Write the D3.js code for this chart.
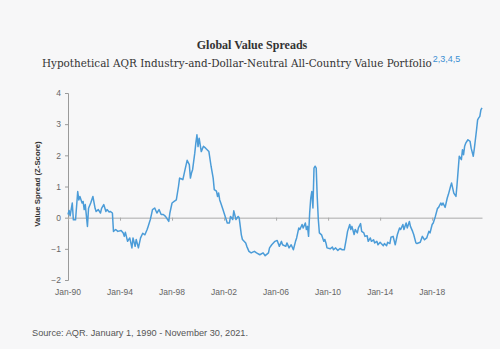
<!DOCTYPE html>
<html>
<head>
<meta charset="utf-8">
<script src="https://cdn.jsdelivr.net/npm/d3@7"></script>
<style>
  html, body { margin: 0; padding: 0; background: #f7f7f8; }
  svg { display: block; }
</style>
</head>
<body>
<script>
// monthly value spread readings, Jan 1990 - Nov 2021
var months = [
  "1990-01","1990-02","1990-03","1990-05","1990-06","1990-08","1990-10","1990-11","1990-12",
  "1991-02","1991-03","1991-04","1991-05","1991-07","1991-08","1991-10","1991-12",
  "1992-02","1992-03","1992-05","1992-07","1992-08","1992-10","1992-12",
  "1993-01","1993-03","1993-04","1993-06","1993-07","1993-09","1993-11",
  "1994-02","1994-04","1994-05","1994-06","1994-08","1994-10","1994-11","1994-12",
  "1995-01","1995-03","1995-04","1995-06","1995-08","1995-10","1995-12",
  "1996-02","1996-03","1996-05","1996-06","1996-07","1996-09","1996-11",
  "1997-01","1997-03","1997-05","1997-07","1997-10","1997-11",
  "1998-01","1998-03","1998-05","1998-07","1998-08","1998-10","1998-11",
  "1999-01","1999-03","1999-05","1999-06","1999-07","1999-08","1999-10","1999-11","1999-12",
  "2000-01","2000-02","2000-04","2000-06","2000-08","2000-11",
  "2001-01","2001-03","2001-04","2001-06","2001-07","2001-08","2001-09","2001-10","2001-12",
  "2002-01","2002-03","2002-04","2002-06","2002-07","2002-09","2002-10","2002-12",
  "2003-02","2003-03","2003-05","2003-06","2003-09","2003-10","2003-12",
  "2004-02","2004-05","2004-07","2004-10",
  "2005-01","2005-03","2005-06","2005-07","2005-09","2005-12",
  "2006-02","2006-04","2006-06","2006-07","2006-10","2006-11",
  "2007-01","2007-03","2007-05","2007-07","2007-08","2007-10","2007-11",
  "2008-01","2008-02","2008-04","2008-05","2008-06","2008-07","2008-08","2008-09","2008-10","2008-11","2008-12",
  "2009-01","2009-02","2009-03","2009-04","2009-05","2009-07","2009-09","2009-10","2009-11","2009-12",
  "2010-03","2010-05","2010-06","2010-08","2010-10","2010-12",
  "2011-02","2011-04","2011-06","2011-07","2011-09","2011-10","2011-11",
  "2012-01","2012-02","2012-04","2012-05","2012-07","2012-08","2012-10","2012-11",
  "2013-01","2013-02","2013-04","2013-05","2013-07","2013-08","2013-10","2013-11",
  "2014-01","2014-02","2014-04","2014-05","2014-07","2014-08","2014-10","2014-11",
  "2015-01","2015-03","2015-05","2015-07","2015-08","2015-10","2015-11",
  "2016-01","2016-02","2016-04","2016-05","2016-07","2016-08","2016-10","2016-11",
  "2017-02","2017-04","2017-06","2017-08","2017-10","2017-11",
  "2018-01","2018-02","2018-04","2018-06","2018-07","2018-09","2018-10","2018-11",
  "2019-01","2019-03","2019-04","2019-06","2019-07","2019-09","2019-11","2019-12",
  "2020-02","2020-04","2020-05","2020-06","2020-07","2020-08","2020-10","2020-12",
  "2021-01","2021-03","2021-04","2021-06","2021-07","2021-08","2021-09","2021-10","2021-11"
];

var spread = [
  0.10,0.23,0.06,0.47,-0.07,-0.07,0.84,0.57,0.68,
  0.47,0.52,0.26,0.42,-0.28,0.30,0.47,0.68,
  0.30,0.20,0.26,0.15,0.30,0.42,0.20,
  0.26,0.18,0.20,0.15,-0.44,-0.38,-0.44,
  -0.41,-0.49,-0.60,-0.47,-0.76,-0.65,-0.81,-0.97,
  -0.65,-0.92,-0.70,-0.97,-0.65,-0.50,-0.55,
  -0.38,-0.28,-0.06,0.10,0.26,0.31,0.15,
  0.26,0.10,0.10,0.04,-0.12,0.15,
  0.47,0.52,0.57,1.00,1.27,1.24,1.22,
  1.54,1.84,1.70,1.27,1.43,1.54,2.07,2.40,2.66,
  2.28,2.55,2.12,2.29,2.23,2.12,
  1.65,1.27,0.90,0.85,0.68,0.79,0.57,0.47,0.26,
  0.15,-0.06,-0.17,-0.17,0.04,-0.06,0.22,-0.06,
  0.04,0.00,-0.55,-0.70,-0.81,-0.92,-1.08,
  -1.13,-1.08,-1.13,-1.19,
  -1.13,-1.22,-1.13,-0.97,-0.87,-0.76,
  -0.73,-0.92,-0.76,-0.87,-0.92,-0.81,
  -0.97,-0.87,-1.03,-0.76,-0.65,-0.33,-0.38,
  -0.22,-0.33,-0.17,-0.38,-0.28,-0.60,0.15,0.63,0.84,0.31,1.59,
  1.65,1.59,0.68,-0.06,-0.49,-0.55,-0.76,-0.70,-0.81,-0.97,
  -1.00,-0.94,-1.03,-0.97,-1.05,-0.99,
  -1.03,-1.03,-0.65,-0.44,-0.22,-0.38,-0.28,
  -0.54,-0.38,-0.49,-0.33,-0.19,-0.44,-0.49,-0.60,
  -0.58,-0.76,-0.65,-0.76,-0.71,-0.81,-0.76,-0.87,
  -0.79,-0.83,-0.90,-0.83,-0.90,-0.79,-0.83,-0.63,
  -0.60,-0.87,-0.54,-0.33,-0.38,-0.22,-0.38,
  -0.17,-0.33,-0.12,-0.28,-0.44,-0.54,-0.81,-0.83,
  -0.79,-0.60,-0.71,-0.65,-0.44,-0.49,
  -0.22,-0.17,0.04,0.30,0.33,0.47,0.40,0.47,
  0.33,0.63,0.74,1.00,1.11,0.79,0.68,1.06,
  1.97,1.86,2.18,2.02,2.29,2.39,2.50,2.45,
  2.23,1.97,2.23,2.82,3.14,3.20,3.25,3.46,3.52
];

var yTicks = [-2, -1, 0, 1, 2, 3, 4];
var xTickYears = [1990, 1994, 1998, 2002, 2006, 2010, 2014, 2018];

var W = 500, H = 349;
var parse = d3.timeParse("%Y-%m");
var data = months.map(function(m, i){ return {date: parse(m), value: spread[i]}; });

var svg = d3.select("body").append("svg")
    .attr("width", W)
    .attr("height", H);

var x = d3.scaleTime()
    .domain([parse("1990-01"), parse("2021-11")])
    .range([68, 482]);

var y = d3.scaleLinear()
    .domain([-2, 4])
    .range([280, 93]);

// titles
svg.append("text")
    .attr("x", 252).attr("y", 49)
    .attr("text-anchor", "middle")
    .style("font-family", "'Liberation Serif', 'DejaVu Serif', serif")
    .style("font-weight", "bold")
    .style("font-size", "12px")
    .style("fill", "#333")
    .text("Global Value Spreads");

var sub = svg.append("text")
    .attr("x", 42).attr("y", 67)
    .style("font-family", "'DejaVu Serif', serif")
    .style("font-size", "10.4px")
    .style("fill", "#333");
sub.append("tspan")
    .text("Hypothetical AQR Industry-and-Dollar-Neutral All-Country Value Portfolio");
sub.append("tspan")
    .attr("dx", 1)
    .attr("dy", -5)
    .style("font-family", "'Liberation Sans', Arial, sans-serif")
    .style("font-size", "9px")
    .style("fill", "#3b8fd3")
    .text("2,3,4,5");

// y axis
var yAxis = svg.append("g")
    .attr("transform", "translate(68,0)")
    .call(d3.axisLeft(y).tickValues(yTicks).tickSize(3).tickPadding(4).tickFormat(d3.format("d")));
yAxis.select(".domain").attr("stroke", "#9a9a9a");
yAxis.selectAll(".tick line").attr("stroke", "#9a9a9a");
yAxis.selectAll(".tick text")
    .style("font-family", "'Liberation Sans', Arial, sans-serif")
    .style("font-size", "8.5px")
    .style("fill", "#666");

svg.append("text")
    .attr("transform", "translate(40,184) rotate(-90)")
    .attr("text-anchor", "middle")
    .style("font-family", "'Liberation Sans', Arial, sans-serif")
    .style("font-weight", "bold")
    .style("font-size", "7.8px")
    .style("fill", "#333")
    .text("Value Spread (Z-Score)");

// zero line with small ticks, labels down at the bottom
var xTicks = xTickYears.map(function(yr){ return new Date(yr, 0, 1); });
var zeroAxis = svg.append("g")
    .attr("transform", "translate(0," + y(0) + ")")
    .call(d3.axisBottom(x).tickValues(xTicks).tickSize(3).tickSizeOuter(0).tickFormat(""));
zeroAxis.select(".domain").attr("stroke", "#aaa");
zeroAxis.selectAll(".tick line").attr("stroke", "#aaa");

svg.append("g").selectAll("text")
    .data(xTicks)
    .enter().append("text")
    .attr("x", function(d){ return x(d); })
    .attr("y", 295)
    .attr("text-anchor", "middle")
    .style("font-family", "'Liberation Sans', Arial, sans-serif")
    .style("font-size", "8.5px")
    .style("fill", "#666")
    .text(d3.timeFormat("Jan-%y"));

// the series
var line = d3.line()
    .x(function(d){ return x(d.date); })
    .y(function(d){ return y(d.value); });

svg.append("path")
    .datum(data)
    .attr("d", line)
    .attr("fill", "none")
    .attr("stroke", "#4b9cd8")
    .attr("stroke-width", 1.5)
    .attr("stroke-linejoin", "round");

// source note
svg.append("text")
    .attr("x", 32).attr("y", 336)
    .style("font-family", "'Liberation Sans', Arial, sans-serif")
    .style("font-size", "9.2px")
    .style("fill", "#555")
    .text("Source: AQR. January 1, 1990 - November 30, 2021.");
</script>
</body>
</html>
